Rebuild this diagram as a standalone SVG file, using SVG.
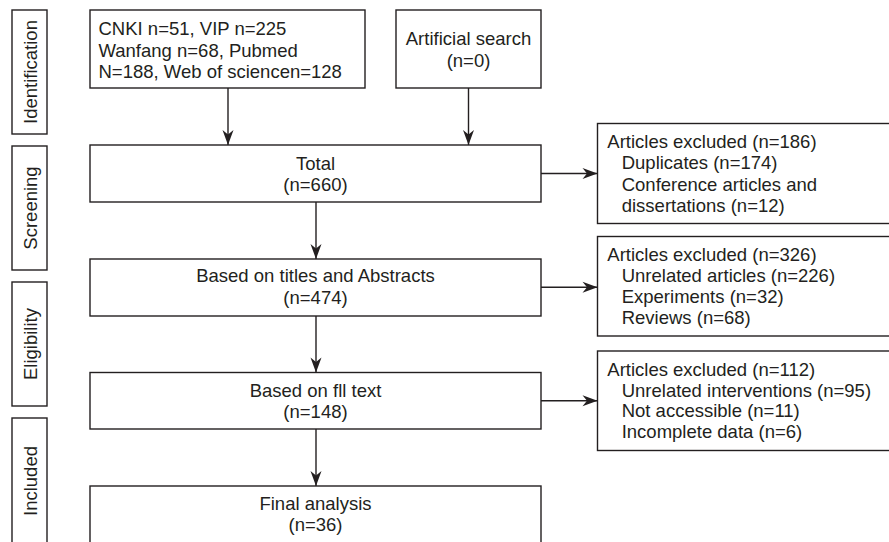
<svg xmlns="http://www.w3.org/2000/svg" width="889" height="542" viewBox="0 0 889 542">
<style>
.box{fill:#fff;stroke:#231f20;stroke-width:1.4}
.t{font-family:"Liberation Sans",Arial,sans-serif;font-size:18.5px;fill:#231f20}
.c{text-anchor:middle}
.ln{stroke:#231f20;stroke-width:1.4;fill:none}
</style>
<defs>
<marker id="ah" markerUnits="userSpaceOnUse" viewBox="-16 -6 16 12" refX="0" refY="0" markerWidth="16" markerHeight="12" orient="auto">
<path d="M0,0 L-15,-5.5 L-10.5,0 L-15,5.5 Z" fill="#231f20"/>
</marker>
</defs>
<rect width="889" height="542" fill="#fff"/>
<g id="stage-identification">
<rect class="box" x="12" y="10" width="35" height="124"/>
<text class="t c" transform="translate(36.5,72) rotate(-90)">Identification</text>
</g>
<g id="stage-screening">
<rect class="box" x="12" y="146" width="35" height="124"/>
<text class="t c" transform="translate(36.5,208) rotate(-90)">Screening</text>
</g>
<g id="stage-eligibility">
<rect class="box" x="12" y="282" width="35" height="124"/>
<text class="t c" transform="translate(36.5,344) rotate(-90)">Eligibility</text>
</g>
<g id="stage-included">
<rect class="box" x="12" y="418" width="35" height="130"/>
<text class="t c" transform="translate(36.5,481) rotate(-90)">Included</text>
</g>
<g id="databases">
<rect class="box" x="90" y="10" width="275" height="78"/>
<text class="t" x="98.5" y="35">CNKI n=51, VIP n=225</text>
<text class="t" x="98.5" y="56.5">Wanfang n=68, Pubmed</text>
<text class="t" x="98.5" y="77.5">N=188, Web of sciencen=128</text>
</g>
<g id="artificial">
<rect class="box" x="396" y="10" width="145" height="78"/>
<text class="t c" x="468.5" y="45">Artificial search</text>
<text class="t c" x="468.5" y="66.5">(n=0)</text>
</g>
<g id="total">
<rect class="box" x="90" y="145" width="451" height="57"/>
<text class="t c" x="315.5" y="170">Total</text>
<text class="t c" x="315.5" y="190.5">(n=660)</text>
</g>
<g id="titles">
<rect class="box" x="90" y="259" width="451" height="57"/>
<text class="t c" x="315.5" y="282">Based on titles and Abstracts</text>
<text class="t c" x="315.5" y="304">(n=474)</text>
</g>
<g id="fulltext">
<rect class="box" x="90" y="372.5" width="451" height="56.5"/>
<text class="t c" x="315.5" y="396.5">Based on fll text</text>
<text class="t c" x="315.5" y="417.5">(n=148)</text>
</g>
<g id="final">
<rect class="box" x="90" y="486" width="451" height="62"/>
<text class="t c" x="315.5" y="510">Final analysis</text>
<text class="t c" x="315.5" y="530.5">(n=36)</text>
</g>
<g id="excluded1">
<rect class="box" x="597.5" y="123.5" width="296" height="100"/>
<text class="t" x="607.3" y="147.7">Articles excluded (n=186)</text>
<text class="t" x="621.7" y="169">Duplicates (n=174)</text>
<text class="t" x="621.7" y="190.5">Conference articles and</text>
<text class="t" x="621.7" y="211.7">dissertations (n=12)</text>
</g>
<g id="excluded2">
<rect class="box" x="597.5" y="236.5" width="296" height="99.5"/>
<text class="t" x="607.3" y="260.7">Articles excluded (n=326)</text>
<text class="t" x="621.7" y="282">Unrelated articles (n=226)</text>
<text class="t" x="621.7" y="303.3">Experiments (n=32)</text>
<text class="t" x="621.7" y="324">Reviews (n=68)</text>
</g>
<g id="excluded3">
<rect class="box" x="597.5" y="351" width="296" height="99.5"/>
<text class="t" x="607.3" y="375.7">Articles excluded (n=112)</text>
<text class="t" x="621.7" y="396.7">Unrelated interventions (n=95)</text>
<text class="t" x="621.7" y="416.9">Not accessible (n=11)</text>
<text class="t" x="621.7" y="437.7">Incomplete data (n=6)</text>
</g>
<g id="connectors">
<line class="ln" x1="228" y1="88" x2="228" y2="145" marker-end="url(#ah)"/>
<line class="ln" x1="468.5" y1="88" x2="468.5" y2="145" marker-end="url(#ah)"/>
<line class="ln" x1="316" y1="202" x2="316" y2="259" marker-end="url(#ah)"/>
<line class="ln" x1="316" y1="316" x2="316" y2="372.5" marker-end="url(#ah)"/>
<line class="ln" x1="316" y1="429" x2="316" y2="486" marker-end="url(#ah)"/>
<line class="ln" x1="541" y1="173.5" x2="597.5" y2="173.5" marker-end="url(#ah)"/>
<line class="ln" x1="541" y1="287.3" x2="597.5" y2="287.3" marker-end="url(#ah)"/>
<line class="ln" x1="541" y1="400.8" x2="597.5" y2="400.8" marker-end="url(#ah)"/>
</g>
</svg>
